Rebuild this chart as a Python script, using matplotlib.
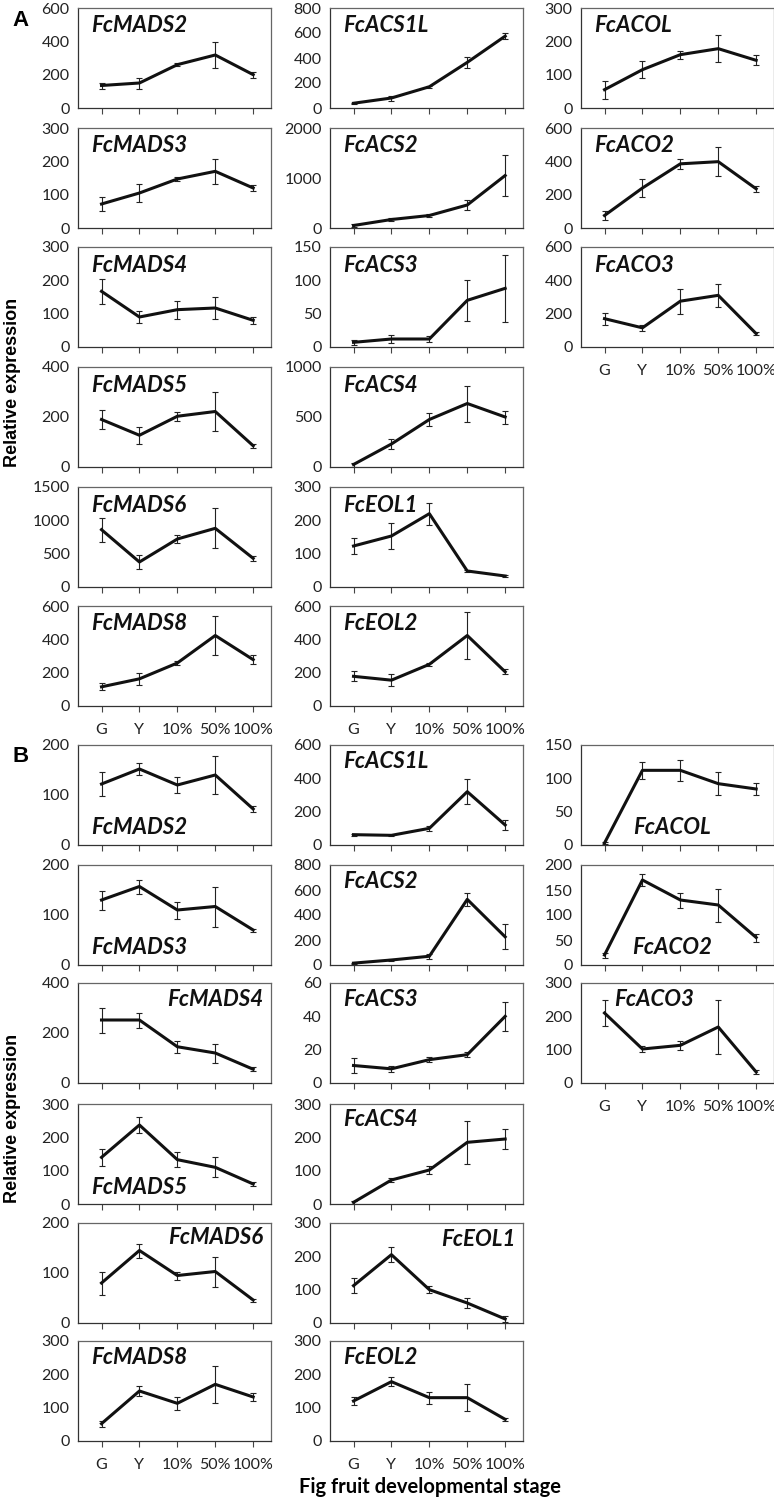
import numpy as np
import matplotlib.pyplot as plt

plt.rcParams['font.family'] = ['Lato', 'DejaVu Sans']

stages = ['G', 'Y', '10%', '50%', '100%']

# panel A: columns are MADS / ACS+EOL / ACO genes
a_names = ['FcMADS2', 'FcMADS3', 'FcMADS4', 'FcMADS5', 'FcMADS6', 'FcMADS8',
           'FcACS1L', 'FcACS2', 'FcACS3', 'FcACS4', 'FcEOL1', 'FcEOL2',
           'FcACOL', 'FcACO2', 'FcACO3']
a_means = [[135, 150, 260, 318, 200], [72, 105, 147, 170, 120], [167, 90, 112, 117, 80],
           [190, 127, 203, 222, 85], [860, 375, 720, 880, 430], [115, 163, 258, 423, 278],
           [38, 80, 170, 365, 575], [50, 170, 250, 460, 1050], [7, 12, 12, 70, 88],
           [25, 230, 475, 635, 500], [123, 153, 220, 48, 33], [178, 155, 250, 423, 205],
           [55, 115, 160, 178, 143], [75, 240, 385, 398, 235], [170, 115, 275, 310, 80]]
a_errs = [[18, 33, 10, 80, 17], [20, 27, 5, 38, 10], [37, 18, 27, 33, 10],
          [37, 35, 18, 78, 8], [180, 105, 65, 300, 40], [22, 35, 12, 120, 25],
          [5, 20, 8, 45, 25], [30, 30, 30, 100, 405], [4, 6, 5, 31, 50],
          [20, 50, 65, 180, 65], [23, 38, 33, 4, 4], [30, 35, 10, 143, 15],
          [27, 25, 12, 40, 15], [28, 55, 30, 88, 20], [35, 20, 75, 70, 8]]
a_ymax = [600, 300, 300, 400, 1500, 600, 800, 2000, 150, 1000, 300, 600, 300, 600, 600]
a_ystep = [200, 100, 100, 200, 500, 200, 200, 1000, 50, 500, 100, 200, 100, 200, 200]

# panel B
b_names = a_names
b_means = [[122, 152, 120, 140, 72], [130, 157, 110, 117, 70], [252, 252, 145, 120, 55],
           [140, 237, 133, 110, 60], [80, 145, 95, 103, 46], [52, 150, 113, 170, 132],
           [62, 58, 100, 320, 120], [15, 40, 70, 525, 225], [10.5, 8.5, 14, 17, 40],
           [5, 72, 102, 185, 195], [112, 205, 100, 60, 12], [120, 178, 130, 130, 65],
           [3, 112, 112, 92, 84], [20, 170, 130, 120, 55], [210, 102, 113, 168, 33]]
b_errs = [[24, 12, 16, 38, 6], [19, 14, 17, 40, 3], [50, 30, 25, 38, 8],
          [25, 25, 23, 30, 6], [23, 14, 8, 30, 3], [9, 14, 20, 55, 12],
          [5, 4, 15, 75, 28], [3, 5, 20, 55, 100], [4.5, 2, 1.5, 1.5, 8.5],
          [5, 7, 12, 65, 30], [22, 22, 10, 16, 8], [12, 14, 18, 40, 4],
          [2, 13, 16, 17, 9], [5, 12, 15, 33, 8], [38, 10, 14, 82, 6]]
b_ymax = [200, 200, 400, 300, 200, 300, 600, 800, 60, 300, 300, 300, 150, 200, 300]
b_ystep = [100, 100, 200, 100, 100, 100, 200, 200, 20, 100, 100, 100, 50, 50, 100]

# where the gene name sits inside each B box (axes fraction, alignment)
b_label_pos = [(0.07, 0.17, 'left'), (0.07, 0.17, 'left'), (0.96, 0.84, 'right'),
               (0.07, 0.17, 'left'), (0.96, 0.86, 'right'), (0.07, 0.84, 'left'),
               (0.07, 0.84, 'left'), (0.07, 0.84, 'left'), (0.07, 0.84, 'left'),
               (0.07, 0.84, 'left'), (0.96, 0.84, 'right'), (0.07, 0.84, 'left'),
               (0.47, 0.17, 'center'), (0.47, 0.18, 'center'), (0.17, 0.84, 'left')]

W, H = 774, 1499
fig = plt.figure(figsize=(W / 100, H / 100), dpi=100)

col_left = [78, 330, 581]
box_w = 193
box_h = 100
a_tops = [8, 128, 247, 367, 487, 606]
b_tops = [745, 865, 983, 1104, 1223, 1341]


def draw_panel(names, means, errs, ymax, ystep, tops, label_pos=None):
    x = np.arange(5)
    for i, name in enumerate(names):
        if i < 6:
            col, row = 0, i
        elif i < 12:
            col, row = 1, i - 6
        else:
            col, row = 2, i - 12
        top = tops[row]
        ax = fig.add_axes([col_left[col] / W, 1 - (top + box_h) / H, box_w / W, box_h / H])
        ax.errorbar(x, means[i], yerr=errs[i], color='#111111', lw=2.2,
                    elinewidth=0.8, capsize=2.5, capthick=0.8, ecolor='#222222')
        ax.set_xlim(-0.62, 4.47)
        ax.set_ylim(0, ymax[i])
        ax.set_yticks(np.arange(0, ymax[i] + 1, ystep[i]))
        ax.set_xticks(x)
        last = (col < 2 and row == 5) or (col == 2 and row == 2)
        if last:
            ax.set_xticklabels(stages)
        else:
            ax.set_xticklabels([])
        ax.tick_params(axis='x', length=4, width=0.8, color='#444444', labelsize=11.5,
                       labelcolor='#222222', pad=8)
        ax.tick_params(axis='y', length=0, labelsize=11.5, labelcolor='#222222', pad=6)
        for s in ax.spines.values():
            s.set_color('#666666')
            s.set_linewidth(0.9)
        ax.spines['left'].set_color('#333333')
        ax.spines['bottom'].set_color('#333333')
        if label_pos is None:
            px, py, ha = 0.07, 0.82, 'left'
        else:
            px, py, ha = label_pos[i]
        ax.text(px, py, name, transform=ax.transAxes, ha=ha, va='center',
                fontsize=16, fontweight='bold', fontstyle='italic', color='#111111')


draw_panel(a_names, a_means, a_errs, a_ymax, a_ystep, a_tops)
draw_panel(b_names, b_means, b_errs, b_ymax, b_ystep, b_tops, b_label_pos)

fig.text(12 / W, 1 - 20 / H, 'A', fontsize=16, fontweight='bold', family='Liberation Sans',
         ha='left', va='center')
fig.text(12 / W, 1 - 757 / H, 'B', fontsize=16, fontweight='bold', family='Liberation Sans',
         ha='left', va='center')
fig.text(13 / W, 1 - 382 / H, 'Relative expression', rotation=90, fontsize=13,
         fontweight='bold', family='Liberation Sans', ha='center', va='center')
fig.text(13 / W, 1 - 1118 / H, 'Relative expression', rotation=90, fontsize=13,
         fontweight='bold', family='Liberation Sans', ha='center', va='center')
fig.text(430 / W, 1 - 1487 / H, 'Fig fruit developmental stage', fontsize=14.5,
         fontweight='bold', ha='center', va='center')

fig.savefig('out.png', dpi=100)
